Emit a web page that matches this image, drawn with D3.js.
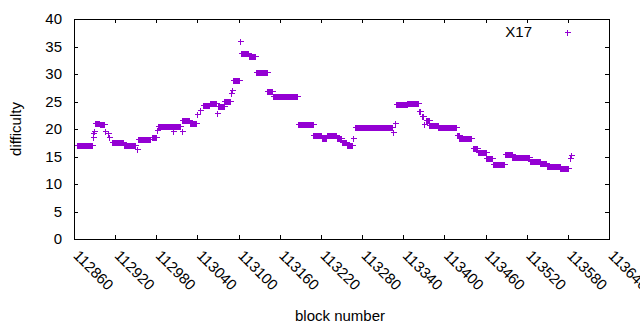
<!DOCTYPE html>
<meta charset="utf-8">
<style>
body { margin: 0; background: #fff; }
text { font-family: "Liberation Sans", Arial, sans-serif; font-size: 15px; fill: #000; }
.frame, .tick { stroke: #000; stroke-width: 1; fill: none; shape-rendering: crispEdges; }
.pt { stroke: #9400d3; stroke-width: 1; fill: none; shape-rendering: crispEdges; }
</style>
<svg width="640" height="330"></svg>
<script src="https://cdn.jsdelivr.net/npm/d3@7"></script>
<script>
// difficulty runs: block range [start, end] held at one value
var runStart = [112865,112887,112888,112889,112890,112898,112905,112909,112911,112916,112933,112952,112954,112974,112981,112983,113004,113017,113018,113029,113039,113044,113048,113058,113069,113070,113079,113089,113091,113092,113102,113104,113115,113126,113142,113150,113186,113209,113221,113229,113243,113250,113258,113267,113270,113325,113328,113330,113346,113363,113367,113371,113373,113378,113391,113418,113422,113441,113449,113461,113471,113488,113499,113525,113540,113549,113569,113583,113585];
var runEnd   = [112886,112887,112888,112889,112897,112904,112905,112909,112911,112932,112949,112952,112971,112979,112981,113014,113004,113017,113027,113038,113039,113044,113057,113067,113069,113078,113087,113089,113091,113100,113102,113114,113124,113141,113149,113185,113208,113220,113228,113242,113249,113257,113266,113267,113323,113325,113328,113345,113362,113365,113369,113371,113377,113390,113417,113421,113439,113448,113460,113470,113487,113498,113524,113539,113548,113568,113580,113583,113585];
var runValue = [17.0,18.5,19.2,19.6,21.1,20.9,19.6,19.2,18.6,17.7,17.1,16.3,18.1,18.6,19.8,20.6,19.7,19.7,21.6,21.0,22.7,23.5,24.4,24.7,23.0,24.2,25.1,26.6,27.1,28.9,36.0,33.9,33.3,30.3,26.9,26.0,20.9,18.9,18.3,18.9,18.3,17.7,17.1,18.3,20.3,19.5,21.0,24.5,24.8,23.2,22.3,20.9,21.6,20.7,20.3,18.9,18.3,16.5,15.9,14.7,13.6,15.4,14.9,14.1,13.75,13.3,12.85,14.8,15.3];

var xTicks = [112860,112920,112980,113040,113100,113160,113220,113280,113340,113400,113460,113520,113580,113640];
var yTicks = [0,5,10,15,20,25,30,35,40];
var seriesName = "X17";

var svg = d3.select("svg"),
    padL = 74, padR = 609, padT = 19, padB = 239;

var x = d3.scaleLinear().domain([112860, 113640]).range([padL, padR]);
var y = d3.scaleLinear().domain([0, 40]).range([padB, padT]);

// one point per block
var points = [];
runStart.forEach(function(s, i) {
  for (var b = s; b <= runEnd[i]; b++) points.push({block: b, value: runValue[i]});
});

function plus(cx, cy, h) {
  cx = Math.round(cx) + 0.5; cy = Math.round(cy) + 0.5;
  return "M" + (cx - h) + "," + cy + "H" + (cx + h) + "M" + cx + "," + (cy - h) + "V" + (cy + h);
}

// ticks, mirrored on the opposite side
var tl = 4;
svg.append("g").selectAll("path").data(yTicks).enter().append("path")
    .attr("class", "tick")
    .attr("d", function(d) { var yy = Math.round(y(d)) + 0.5;
      return "M" + padL + "," + yy + "h" + tl + "M" + padR + "," + yy + "h" + (-tl); });
svg.append("g").selectAll("path").data(xTicks).enter().append("path")
    .attr("class", "tick")
    .attr("d", function(d) { var xx = Math.round(x(d)) + 0.5;
      return "M" + xx + "," + padB + "v" + (-tl) + "M" + xx + "," + padT + "v" + tl; });

svg.append("g").selectAll("text").data(yTicks).enter().append("text")
    .attr("x", padL - 12)
    .attr("y", function(d) { return y(d); })
    .attr("dy", "0.35em")
    .attr("text-anchor", "end")
    .text(function(d) { return d; });

svg.append("g").selectAll("text").data(xTicks).enter().append("text")
    .attr("transform", function(d) { return "translate(" + (x(d) + 7) + ",248) rotate(45)"; })
    .attr("dy", "0.8em")
    .text(function(d) { return d; });

svg.append("rect").attr("class", "frame")
    .attr("x", padL + 0.5).attr("y", padT + 0.5)
    .attr("width", padR - padL).attr("height", padB - padT);

svg.append("g").selectAll("path").data(points).enter().append("path")
    .attr("class", "pt")
    .attr("d", function(d) { return plus(x(d.block), y(d.value), 3); });

// legend
svg.append("text").attr("x", 532).attr("y", 37).attr("text-anchor", "end").text(seriesName);
svg.append("path").attr("class", "pt").attr("d", plus(567, 32, 3));

svg.append("text").attr("x", 340).attr("y", 321).attr("text-anchor", "middle").text("block number");
svg.append("text").attr("transform", "translate(21,129) rotate(-90)")
    .attr("text-anchor", "middle").text("difficulty");
</script>
